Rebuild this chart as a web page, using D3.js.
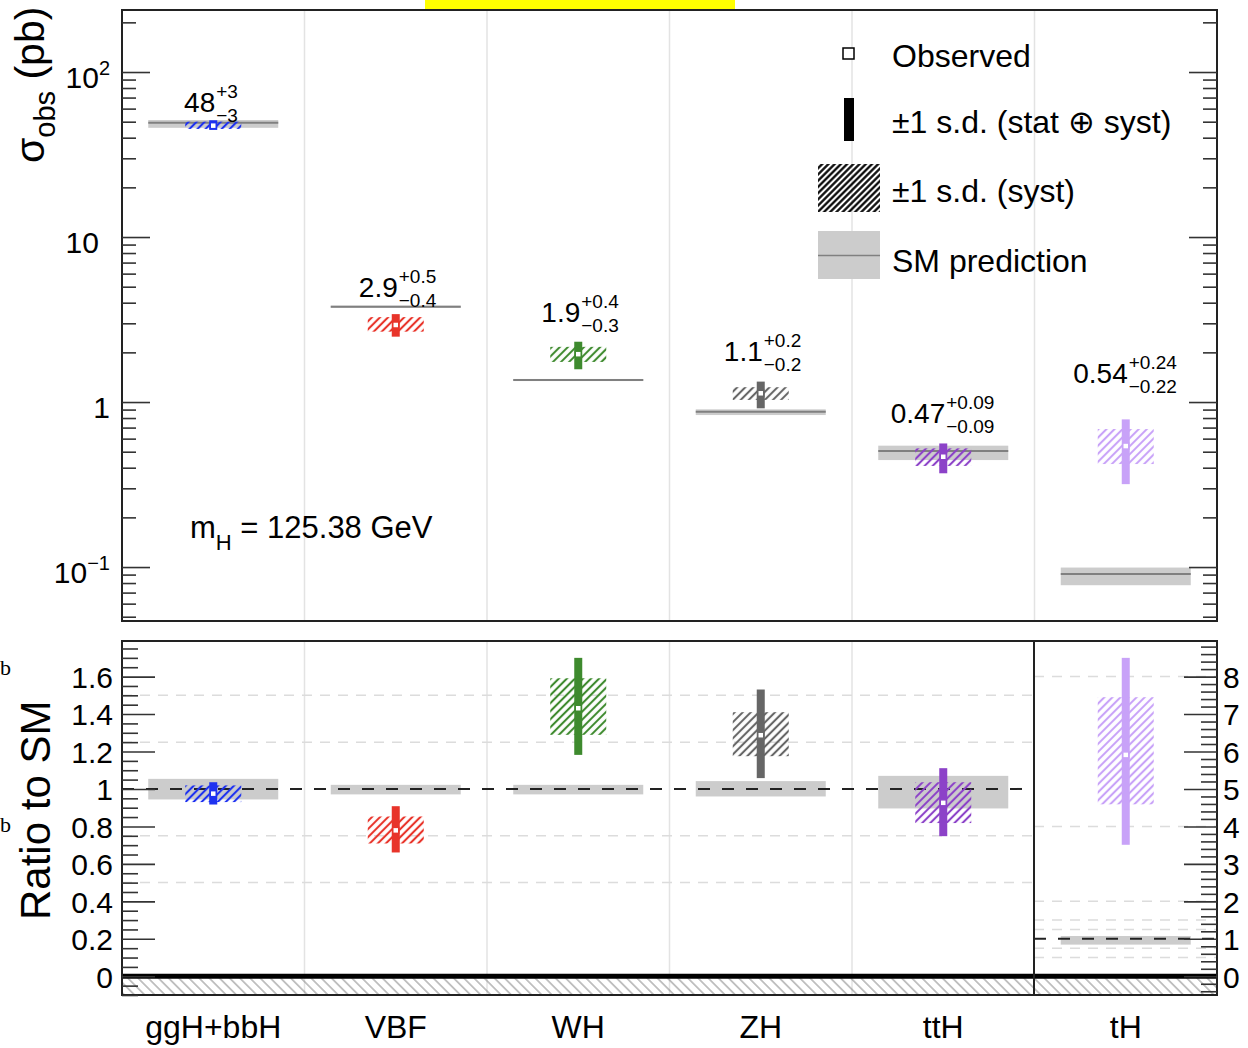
<!DOCTYPE html>
<html>
<head>
<meta charset="utf-8">
<script src="https://d3js.org/d3.v7.min.js"></script>
<style>
body { margin: 0; background: #fff; }
svg { display: block; font-family: "Liberation Sans", Arial, Helvetica, sans-serif; }
</style>
</head>
<body>
<div id="chart"></div>
<script>
// production modes
var categories = ["ggH+bbH", "VBF", "WH", "ZH", "ttH", "tH"];

// upper panel, cross sections in pb
var obsXsec  = [47.3, 2.93, 1.95, 1.13, 0.466, 0.541];
var totHi    = [51.0, 3.41, 2.32, 1.33, 0.561, 0.785];
var totLo    = [44.6, 2.49, 1.58, 0.916, 0.370, 0.318];
var systHi   = [50.0, 3.27, 2.16, 1.23, 0.524, 0.686];
var systLo   = [45.2, 2.67, 1.75, 1.03, 0.410, 0.421];
var smXsec   = [49.3, 3.78, 1.36, 0.874, 0.505, 0.0907];
var smHi     = [51.2, 3.84, 1.38, 0.903, 0.544, 0.0993];
var smLo     = [45.9, 3.72, 1.34, 0.834, 0.445, 0.0776];
var labelVal  = ["48", "2.9", "1.9", "1.1", "0.47", "0.54"];
var labelUp   = ["+3", "+0.5", "+0.4", "+0.2", "+0.09", "+0.24"];
var labelDown = ["\u22123", "\u22120.4", "\u22120.3", "\u22120.2", "\u22120.09", "\u22120.22"];

// lower panel, ratio to SM (tH on its own scale)
var ratioObs    = [0.975, 0.779, 1.431, 1.287, 0.926, 5.91];
var ratioTotHi  = [1.036, 0.908, 1.70, 1.531, 1.111, 8.50];
var ratioTotLo  = [0.917, 0.661, 1.182, 1.058, 0.748, 3.51];
var ratioSystHi = [1.019, 0.853, 1.591, 1.41, 1.036, 7.45];
var ratioSystLo = [0.93, 0.709, 1.289, 1.175, 0.818, 4.59];
var smRatioHi   = [1.054, 1.022, 1.022, 1.042, 1.07, 1.075];
var smRatioLo   = [0.944, 0.971, 0.971, 0.96, 0.896, 0.845];

// dashed reference levels in the ratio panel
var ratioGrid = [0.5, 0.75, 1.25, 1.5];
var thGrid = [0.5, 0.75, 1.25, 1.5, 2, 4, 8];

// styling
var colors = ["#1e32f0", "#e8342a", "#3e8a2e", "#666666", "#8c42c8", "#c8a2f8"];
var labelGap = [8.5, 17, 19.5, 20.5, 20.5, 36];

var svgWidth = 1248, svgHeight = 1048;
var left = 122, right = 1217, thSplit = 1034;
var top1 = 10, bot1 = 621, top2 = 641, bot2 = 995;

var svg = d3.select("#chart").append("svg")
  .attr("width", svgWidth)
  .attr("height", svgHeight);

var defs = svg.append("defs");
function hatch(id, color, gap, width, angle) {
  var p = defs.append("pattern")
    .attr("id", id)
    .attr("patternUnits", "userSpaceOnUse")
    .attr("width", gap).attr("height", gap)
    .attr("patternTransform", "rotate(" + angle + ")");
  p.append("line")
    .attr("x1", gap / 2).attr("y1", -1).attr("x2", gap / 2).attr("y2", gap + 1)
    .attr("stroke", color).attr("stroke-width", width);
}
colors.forEach(function(c, i) { hatch("h" + i, c, 5.7, 2.1, 45); });
hatch("hLegend", "#000", 4.4, 2.2, 45);
hatch("hZero", "#8a8a8a", 7.2, 1, -45);

// scales
var x = d3.scaleBand().domain(categories).range([left, right]);
var cx = function(i) { return x(categories[i]) + x.bandwidth() / 2; };
var yTop = d3.scaleLog().domain([0.0471, 237.6]).range([bot1, top1]);
var yRatio = d3.scaleLinear().domain([-0.1, 1.79]).range([bot2, top2]);
var yTH = d3.scaleLinear().domain([-0.5, 8.95]).range([bot2, top2]);
var yR = function(i) { return categories[i] === "tH" ? yTH : yRatio; };

var bandW = 130, hatchW = 56, barW = 8, mk = 6;

// yellow strip at the top
svg.append("rect").attr("x", 425).attr("y", 0).attr("width", 310).attr("height", 9).attr("fill", "#ffff00");

// ---------- upper panel ----------
var upper = svg.append("g");

// category separators
categories.slice(1).forEach(function(c) {
  upper.append("line")
    .attr("x1", x(c)).attr("x2", x(c)).attr("y1", top1).attr("y2", bot1)
    .attr("stroke", "#e3e3e3").attr("stroke-width", 1.5);
});

categories.forEach(function(c, i) {
  var xc = cx(i);
  upper.append("rect")
    .attr("x", xc - bandW / 2).attr("width", bandW)
    .attr("y", yTop(smHi[i])).attr("height", yTop(smLo[i]) - yTop(smHi[i]))
    .attr("fill", "#cccccc");
  upper.append("line")
    .attr("x1", xc - bandW / 2).attr("x2", xc + bandW / 2)
    .attr("y1", yTop(smXsec[i])).attr("y2", yTop(smXsec[i]))
    .attr("stroke", "#808080").attr("stroke-width", 2);
  upper.append("rect")
    .attr("x", xc - hatchW / 2).attr("width", hatchW)
    .attr("y", yTop(systHi[i])).attr("height", yTop(systLo[i]) - yTop(systHi[i]))
    .attr("fill", "url(#h" + i + ")");
  upper.append("rect")
    .attr("x", xc - barW / 2).attr("width", barW)
    .attr("y", yTop(totHi[i])).attr("height", yTop(totLo[i]) - yTop(totHi[i]))
    .attr("fill", colors[i]);
  upper.append("rect")
    .attr("x", xc - mk / 2).attr("y", yTop(obsXsec[i]) - mk / 2)
    .attr("width", mk).attr("height", mk)
    .attr("fill", "#fff").attr("stroke", colors[i]).attr("stroke-width", 1.5);

  // value with asymmetric errors
  var ly = yTop(totHi[i]) - labelGap[i];
  upper.append("text").attr("x", xc + 2).attr("y", ly)
    .attr("text-anchor", "end").attr("font-size", 28).text(labelVal[i]);
  upper.append("text").attr("x", xc + 3).attr("y", ly - 14)
    .attr("font-size", 19).text(labelUp[i]);
  upper.append("text").attr("x", xc + 3).attr("y", ly + 10)
    .attr("font-size", 19).text(labelDown[i]);
});

upper.append("rect")
  .attr("x", left).attr("y", top1).attr("width", right - left).attr("height", bot1 - top1)
  .attr("fill", "none").attr("stroke", "#222").attr("stroke-width", 2);

// log axis ticks
var decades = [0.1, 1, 10, 100];
var logMinor = [];
[-2, -1, 0, 1, 2].forEach(function(e) {
  for (var m = 2; m <= 9; m++) {
    var v = m * Math.pow(10, e);
    if (v > yTop.domain()[0] && v < yTop.domain()[1]) logMinor.push(v);
  }
});

function styleAxis(g, fs) {
  g.attr("font-family", null).attr("font-size", fs);
  g.select(".domain").remove();
  g.selectAll(".tick line").attr("stroke", "#333").attr("stroke-width", 1.6);
  g.selectAll(".tick text").attr("fill", "#000");
}

var gTL = upper.append("g").attr("transform", `translate(${left},0)`)
  .call(d3.axisLeft(yTop).tickValues(decades).tickSizeInner(-28).tickSizeOuter(0).tickPadding(12).tickFormat(""));
styleAxis(gTL, 30);
gTL.selectAll(".tick text").attr("dy", "0.52em").each(function(d) {
  var t = d3.select(this);
  var e = Math.round(Math.log10(d));
  if (e === 0) { t.text("1"); return; }
  t.text("10");
  t.append("tspan").attr("dy", -13).attr("font-size", 20)
    .text(e === 1 ? "\u2007" : (e < 0 ? "\u2212" + (-e) : e));
});
styleAxis(upper.append("g").attr("transform", `translate(${left},0)`)
  .call(d3.axisLeft(yTop).tickValues(logMinor).tickSizeInner(-14).tickSizeOuter(0).tickFormat("")), 30);
styleAxis(upper.append("g").attr("transform", `translate(${right},0)`)
  .call(d3.axisRight(yTop).tickValues(decades).tickSizeInner(-28).tickSizeOuter(0).tickFormat("")), 30);
styleAxis(upper.append("g").attr("transform", `translate(${right},0)`)
  .call(d3.axisRight(yTop).tickValues(logMinor).tickSizeInner(-14).tickSizeOuter(0).tickFormat("")), 30);

// y title
var t1 = upper.append("text").attr("transform", "translate(44,163) rotate(-90)").attr("font-size", 41);
t1.append("tspan").text("\u03c3");
t1.append("tspan").attr("dy", 11).attr("font-size", 29).text("obs");
t1.append("tspan").attr("dy", -11).text(" (pb)");

// mass label
var tm = upper.append("text").attr("x", 190).attr("y", 538).attr("font-size", 31);
tm.append("tspan").text("m");
tm.append("tspan").attr("dy", 12).attr("font-size", 22).text("H");
tm.append("tspan").attr("dy", -12).text(" = 125.38 GeV");

// legend
var leg = upper.append("g");
leg.append("rect").attr("x", 843).attr("y", 48).attr("width", 11).attr("height", 11)
  .attr("fill", "#fff").attr("stroke", "#000").attr("stroke-width", 1.5);
leg.append("rect").attr("x", 844).attr("y", 98).attr("width", 10).attr("height", 43).attr("fill", "#000");
leg.append("rect").attr("x", 818).attr("y", 164).attr("width", 62).attr("height", 48).attr("fill", "url(#hLegend)");
leg.append("rect").attr("x", 818).attr("y", 231).attr("width", 62).attr("height", 48).attr("fill", "#cccccc");
leg.append("line").attr("x1", 818).attr("x2", 880).attr("y1", 255.5).attr("y2", 255.5)
  .attr("stroke", "#808080").attr("stroke-width", 1.5);
var legText = ["Observed", "\u00b11 s.d. (stat \u2295 syst)", "\u00b11 s.d. (syst)", "SM prediction"];
var legY = [66.7, 133.3, 201.7, 271.7];
legText.forEach(function(s, i) {
  leg.append("text").attr("x", 892).attr("y", legY[i]).attr("font-size", 32).text(s);
});

// ---------- ratio panel ----------
var lower = svg.append("g");

categories.slice(1, 5).forEach(function(c) {
  lower.append("line")
    .attr("x1", x(c)).attr("x2", x(c)).attr("y1", top2).attr("y2", bot2)
    .attr("stroke", "#e3e3e3").attr("stroke-width", 1.5);
});

ratioGrid.forEach(function(v) {
  lower.append("line").attr("x1", left).attr("x2", thSplit)
    .attr("y1", yRatio(v)).attr("y2", yRatio(v))
    .attr("stroke", "#dcdcdc").attr("stroke-width", 1.5).attr("stroke-dasharray", "10,8");
});
thGrid.forEach(function(v) {
  lower.append("line").attr("x1", thSplit).attr("x2", right)
    .attr("y1", yTH(v)).attr("y2", yTH(v))
    .attr("stroke", "#dcdcdc").attr("stroke-width", 1.5).attr("stroke-dasharray", "10,8");
});

categories.forEach(function(c, i) {
  var xc = cx(i), ys = yR(i);
  lower.append("rect")
    .attr("x", xc - bandW / 2).attr("width", bandW)
    .attr("y", ys(smRatioHi[i])).attr("height", ys(smRatioLo[i]) - ys(smRatioHi[i]))
    .attr("fill", "#cccccc");
});

// SM reference
lower.append("line").attr("x1", left).attr("x2", thSplit)
  .attr("y1", yRatio(1)).attr("y2", yRatio(1))
  .attr("stroke", "#222").attr("stroke-width", 2).attr("stroke-dasharray", "12,12");
lower.append("line").attr("x1", thSplit).attr("x2", right)
  .attr("y1", yTH(1)).attr("y2", yTH(1))
  .attr("stroke", "#222").attr("stroke-width", 2).attr("stroke-dasharray", "12,12");

// unphysical region below zero
lower.append("rect").attr("x", left).attr("width", right - left)
  .attr("y", yRatio(0) + 2).attr("height", yRatio(-0.1) - yRatio(0) - 2)
  .attr("fill", "url(#hZero)");
lower.append("line").attr("x1", left).attr("x2", right)
  .attr("y1", yRatio(0)).attr("y2", yRatio(0))
  .attr("stroke", "#000").attr("stroke-width", 5);

categories.forEach(function(c, i) {
  var xc = cx(i), ys = yR(i);
  lower.append("rect")
    .attr("x", xc - hatchW / 2).attr("width", hatchW)
    .attr("y", ys(ratioSystHi[i])).attr("height", ys(ratioSystLo[i]) - ys(ratioSystHi[i]))
    .attr("fill", "url(#h" + i + ")");
  lower.append("rect")
    .attr("x", xc - barW / 2).attr("width", barW)
    .attr("y", ys(ratioTotHi[i])).attr("height", ys(ratioTotLo[i]) - ys(ratioTotHi[i]))
    .attr("fill", colors[i]);
  lower.append("rect")
    .attr("x", xc - mk / 2).attr("y", ys(ratioObs[i]) - mk / 2)
    .attr("width", mk).attr("height", mk)
    .attr("fill", "#fff").attr("stroke", colors[i]).attr("stroke-width", 1.5);
});

lower.append("rect")
  .attr("x", left).attr("y", top2).attr("width", right - left).attr("height", bot2 - top2)
  .attr("fill", "none").attr("stroke", "#222").attr("stroke-width", 2);
lower.append("line").attr("x1", thSplit).attr("x2", thSplit).attr("y1", top2).attr("y2", bot2)
  .attr("stroke", "#222").attr("stroke-width", 2);

// ratio axes
var rMajor = d3.range(0, 1.61, 0.2).map(function(v) { return +v.toFixed(2); });
var rMinor = d3.range(-0.1, 1.79, 0.05).map(function(v) { return +v.toFixed(2); })
  .filter(function(v) { return rMajor.indexOf(v) < 0; });
var gRL = lower.append("g").attr("transform", `translate(${left},0)`)
  .call(d3.axisLeft(yRatio).tickValues(rMajor).tickSizeInner(-33).tickSizeOuter(0).tickPadding(9)
    .tickFormat(function(d) { return String(+d.toFixed(1)); }));
styleAxis(gRL, 30);
gRL.selectAll(".tick text").attr("dy", "0.36em");
styleAxis(lower.append("g").attr("transform", `translate(${left},0)`)
  .call(d3.axisLeft(yRatio).tickValues(rMinor).tickSizeInner(-16).tickSizeOuter(0).tickFormat("")), 30);

var tMajor = d3.range(0, 9, 1);
var tMinor = d3.range(-0.4, 8.95, 0.2).map(function(v) { return +v.toFixed(1); })
  .filter(function(v) { return Math.abs(v - Math.round(v)) > 0.01; });
var gRR = lower.append("g").attr("transform", `translate(${right},0)`)
  .call(d3.axisRight(yTH).tickValues(tMajor).tickSizeInner(-33).tickSizeOuter(0).tickPadding(6)
    .tickFormat(d3.format("d")));
styleAxis(gRR, 30);
gRR.selectAll(".tick text").attr("dy", "0.36em");
styleAxis(lower.append("g").attr("transform", `translate(${right},0)`)
  .call(d3.axisRight(yTH).tickValues(tMinor).tickSizeInner(-16).tickSizeOuter(0).tickFormat("")), 30);

lower.append("text").attr("transform", "translate(50,920) rotate(-90)")
  .attr("font-size", 42).text("Ratio to SM");

// category names
categories.forEach(function(c, i) {
  svg.append("text").attr("x", cx(i)).attr("y", 1038)
    .attr("text-anchor", "middle").attr("font-size", 32).text(c);
});

// stray marks at the left margin
[675, 832].forEach(function(yy) {
  svg.append("text").attr("x", 0).attr("y", yy)
    .attr("font-family", "Liberation Serif, serif").attr("font-size", 22).text("b");
});
</script>
</body>
</html>
